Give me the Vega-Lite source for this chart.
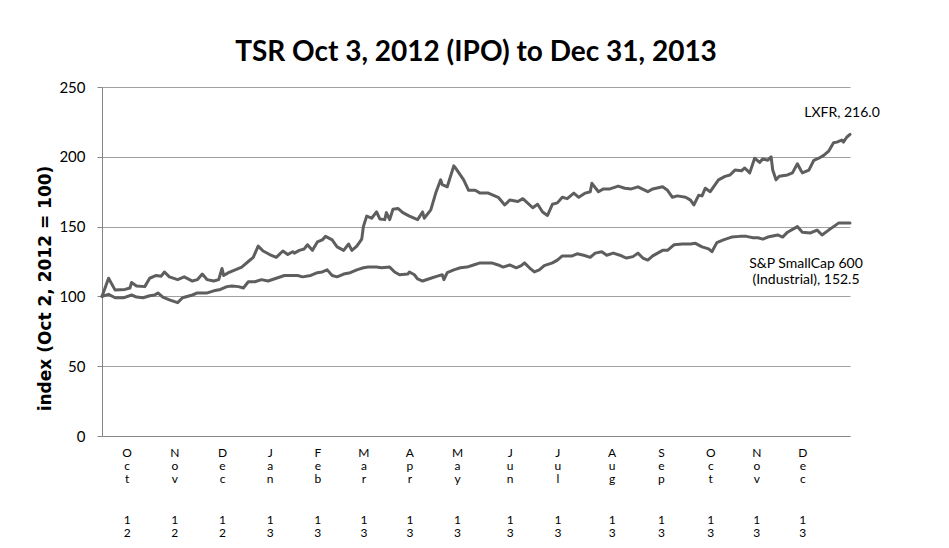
{
"$schema": "https://vega.github.io/schema/vega-lite/v6.json",
"width": 748, "height": 349,
"autosize": "none",
"padding": {"left": 102, "top": 87, "right": 99, "bottom": 112},
"background": "white",
"title": {"text": "TSR Oct 3, 2012 (IPO) to Dec 31, 2013", "font": "Lato", "fontSize": 28, "fontWeight": "bold", "color": "#000000", "anchor": "middle", "offset": 13},
"config": {"view": {"stroke": null}, "font": "Lato"},
"datasets": {
"series": [
{"date":"2012-10-02","series":"LXFR","value":100},{"date":"2012-10-06","series":"LXFR","value":113},{"date":"2012-10-10","series":"LXFR","value":104.5},{"date":"2012-10-16","series":"LXFR","value":105},{"date":"2012-10-19","series":"LXFR","value":106},{"date":"2012-10-20","series":"LXFR","value":110},{"date":"2012-10-23","series":"LXFR","value":107.5},{"date":"2012-10-28","series":"LXFR","value":107},{"date":"2012-10-31","series":"LXFR","value":113},{"date":"2012-11-04","series":"LXFR","value":115},{"date":"2012-11-07","series":"LXFR","value":114.5},{"date":"2012-11-09","series":"LXFR","value":117.5},{"date":"2012-11-12","series":"LXFR","value":114},{"date":"2012-11-17","series":"LXFR","value":112},{"date":"2012-11-21","series":"LXFR","value":114},{"date":"2012-11-26","series":"LXFR","value":111},{"date":"2012-11-29","series":"LXFR","value":112},{"date":"2012-12-02","series":"LXFR","value":116},{"date":"2012-12-05","series":"LXFR","value":112},{"date":"2012-12-09","series":"LXFR","value":111},{"date":"2012-12-12","series":"LXFR","value":112},{"date":"2012-12-14","series":"LXFR","value":120},{"date":"2012-12-15","series":"LXFR","value":115},{"date":"2012-12-18","series":"LXFR","value":117},{"date":"2012-12-22","series":"LXFR","value":119},{"date":"2012-12-26","series":"LXFR","value":121},{"date":"2012-12-30","series":"LXFR","value":125},{"date":"2013-01-02","series":"LXFR","value":128},{"date":"2013-01-05","series":"LXFR","value":136},{"date":"2013-01-08","series":"LXFR","value":132.5},{"date":"2013-01-12","series":"LXFR","value":130},{"date":"2013-01-16","series":"LXFR","value":128},{"date":"2013-01-20","series":"LXFR","value":132.5},{"date":"2013-01-23","series":"LXFR","value":130},{"date":"2013-01-26","series":"LXFR","value":132},{"date":"2013-01-27","series":"LXFR","value":131},{"date":"2013-01-30","series":"LXFR","value":133},{"date":"2013-02-02","series":"LXFR","value":134},{"date":"2013-02-04","series":"LXFR","value":137},{"date":"2013-02-07","series":"LXFR","value":133},{"date":"2013-02-10","series":"LXFR","value":139},{"date":"2013-02-13","series":"LXFR","value":140.5},{"date":"2013-02-15","series":"LXFR","value":143},{"date":"2013-02-19","series":"LXFR","value":140.5},{"date":"2013-02-22","series":"LXFR","value":135.5},{"date":"2013-02-26","series":"LXFR","value":133},{"date":"2013-03-01","series":"LXFR","value":137.5},{"date":"2013-03-03","series":"LXFR","value":133},{"date":"2013-03-06","series":"LXFR","value":136},{"date":"2013-03-09","series":"LXFR","value":141},{"date":"2013-03-10","series":"LXFR","value":150},{"date":"2013-03-12","series":"LXFR","value":157.5},{"date":"2013-03-15","series":"LXFR","value":156},{"date":"2013-03-18","series":"LXFR","value":160.5},{"date":"2013-03-20","series":"LXFR","value":155.5},{"date":"2013-03-23","series":"LXFR","value":155},{"date":"2013-03-24","series":"LXFR","value":160},{"date":"2013-03-26","series":"LXFR","value":155},{"date":"2013-03-28","series":"LXFR","value":162.5},{"date":"2013-03-31","series":"LXFR","value":163},{"date":"2013-04-03","series":"LXFR","value":160},{"date":"2013-04-07","series":"LXFR","value":157.5},{"date":"2013-04-12","series":"LXFR","value":155},{"date":"2013-04-15","series":"LXFR","value":160.5},{"date":"2013-04-16","series":"LXFR","value":156},{"date":"2013-04-20","series":"LXFR","value":162},{"date":"2013-04-23","series":"LXFR","value":174},{"date":"2013-04-26","series":"LXFR","value":183.5},{"date":"2013-04-27","series":"LXFR","value":180},{"date":"2013-04-30","series":"LXFR","value":178.5},{"date":"2013-05-04","series":"LXFR","value":193.5},{"date":"2013-05-05","series":"LXFR","value":192},{"date":"2013-05-10","series":"LXFR","value":183.5},{"date":"2013-05-13","series":"LXFR","value":176},{"date":"2013-05-17","series":"LXFR","value":176},{"date":"2013-05-20","series":"LXFR","value":174},{"date":"2013-05-25","series":"LXFR","value":174},{"date":"2013-05-31","series":"LXFR","value":171},{"date":"2013-06-04","series":"LXFR","value":165.5},{"date":"2013-06-07","series":"LXFR","value":169},{"date":"2013-06-12","series":"LXFR","value":168},{"date":"2013-06-15","series":"LXFR","value":170},{"date":"2013-06-21","series":"LXFR","value":163.5},{"date":"2013-06-24","series":"LXFR","value":166},{"date":"2013-06-27","series":"LXFR","value":160.5},{"date":"2013-06-30","series":"LXFR","value":158},{"date":"2013-07-03","series":"LXFR","value":166},{"date":"2013-07-06","series":"LXFR","value":167},{"date":"2013-07-09","series":"LXFR","value":171},{"date":"2013-07-12","series":"LXFR","value":170},{"date":"2013-07-16","series":"LXFR","value":174},{"date":"2013-07-19","series":"LXFR","value":171},{"date":"2013-07-23","series":"LXFR","value":174},{"date":"2013-07-26","series":"LXFR","value":175},{"date":"2013-07-27","series":"LXFR","value":181},{"date":"2013-07-31","series":"LXFR","value":175},{"date":"2013-08-03","series":"LXFR","value":177},{"date":"2013-08-07","series":"LXFR","value":177},{"date":"2013-08-12","series":"LXFR","value":179},{"date":"2013-08-16","series":"LXFR","value":177.5},{"date":"2013-08-20","series":"LXFR","value":177},{"date":"2013-08-24","series":"LXFR","value":178.5},{"date":"2013-08-30","series":"LXFR","value":175},{"date":"2013-09-02","series":"LXFR","value":177},{"date":"2013-09-08","series":"LXFR","value":178.5},{"date":"2013-09-11","series":"LXFR","value":176},{"date":"2013-09-14","series":"LXFR","value":171},{"date":"2013-09-17","series":"LXFR","value":172},{"date":"2013-09-22","series":"LXFR","value":171},{"date":"2013-09-25","series":"LXFR","value":169},{"date":"2013-09-27","series":"LXFR","value":165.5},{"date":"2013-09-30","series":"LXFR","value":172.5},{"date":"2013-10-02","series":"LXFR","value":172},{"date":"2013-10-04","series":"LXFR","value":177.5},{"date":"2013-10-07","series":"LXFR","value":175},{"date":"2013-10-09","series":"LXFR","value":178.5},{"date":"2013-10-12","series":"LXFR","value":183.5},{"date":"2013-10-16","series":"LXFR","value":186},{"date":"2013-10-19","series":"LXFR","value":187},{"date":"2013-10-22","series":"LXFR","value":190.5},{"date":"2013-10-26","series":"LXFR","value":190},{"date":"2013-10-28","series":"LXFR","value":192},{"date":"2013-10-31","series":"LXFR","value":188.5},{"date":"2013-11-03","series":"LXFR","value":199},{"date":"2013-11-06","series":"LXFR","value":196},{"date":"2013-11-08","series":"LXFR","value":198.5},{"date":"2013-11-11","series":"LXFR","value":197.5},{"date":"2013-11-13","series":"LXFR","value":200},{"date":"2013-11-14","series":"LXFR","value":190.5},{"date":"2013-11-16","series":"LXFR","value":183.5},{"date":"2013-11-18","series":"LXFR","value":186},{"date":"2013-11-23","series":"LXFR","value":187},{"date":"2013-11-26","series":"LXFR","value":188.5},{"date":"2013-11-29","series":"LXFR","value":195},{"date":"2013-12-01","series":"LXFR","value":190.5},{"date":"2013-12-02","series":"LXFR","value":188.5},{"date":"2013-12-06","series":"LXFR","value":190.5},{"date":"2013-12-09","series":"LXFR","value":197.5},{"date":"2013-12-12","series":"LXFR","value":199},{"date":"2013-12-15","series":"LXFR","value":201},{"date":"2013-12-18","series":"LXFR","value":204},{"date":"2013-12-21","series":"LXFR","value":210},{"date":"2013-12-23","series":"LXFR","value":210.5},{"date":"2013-12-26","series":"LXFR","value":212},{"date":"2013-12-27","series":"LXFR","value":210.5},{"date":"2013-12-29","series":"LXFR","value":214},{"date":"2013-12-31","series":"LXFR","value":216},
{"date":"2012-10-02","series":"SP600","value":100},{"date":"2012-10-06","series":"SP600","value":101.5},{"date":"2012-10-10","series":"SP600","value":99},{"date":"2012-10-15","series":"SP600","value":99},{"date":"2012-10-20","series":"SP600","value":101},{"date":"2012-10-23","series":"SP600","value":99.5},{"date":"2012-10-27","series":"SP600","value":99},{"date":"2012-10-31","series":"SP600","value":100.5},{"date":"2012-11-03","series":"SP600","value":101},{"date":"2012-11-05","series":"SP600","value":102.5},{"date":"2012-11-08","series":"SP600","value":99.5},{"date":"2012-11-12","series":"SP600","value":97.5},{"date":"2012-11-17","series":"SP600","value":95.5},{"date":"2012-11-20","series":"SP600","value":99},{"date":"2012-11-26","series":"SP600","value":101},{"date":"2012-11-29","series":"SP600","value":102.5},{"date":"2012-12-05","series":"SP600","value":102.5},{"date":"2012-12-09","series":"SP600","value":104},{"date":"2012-12-13","series":"SP600","value":105},{"date":"2012-12-17","series":"SP600","value":107},{"date":"2012-12-20","series":"SP600","value":107.5},{"date":"2012-12-24","series":"SP600","value":107},{"date":"2012-12-27","series":"SP600","value":106},{"date":"2012-12-30","series":"SP600","value":110.5},{"date":"2013-01-03","series":"SP600","value":110.5},{"date":"2013-01-07","series":"SP600","value":112},{"date":"2013-01-11","series":"SP600","value":111},{"date":"2013-01-16","series":"SP600","value":113},{"date":"2013-01-21","series":"SP600","value":115},{"date":"2013-01-26","series":"SP600","value":115},{"date":"2013-01-29","series":"SP600","value":115},{"date":"2013-02-01","series":"SP600","value":114},{"date":"2013-02-06","series":"SP600","value":115},{"date":"2013-02-10","series":"SP600","value":117},{"date":"2013-02-13","series":"SP600","value":117.5},{"date":"2013-02-16","series":"SP600","value":119},{"date":"2013-02-19","series":"SP600","value":115},{"date":"2013-02-22","series":"SP600","value":114},{"date":"2013-02-26","series":"SP600","value":116},{"date":"2013-03-02","series":"SP600","value":117},{"date":"2013-03-06","series":"SP600","value":119},{"date":"2013-03-10","series":"SP600","value":120.5},{"date":"2013-03-13","series":"SP600","value":121},{"date":"2013-03-18","series":"SP600","value":121},{"date":"2013-03-21","series":"SP600","value":120.5},{"date":"2013-03-26","series":"SP600","value":121},{"date":"2013-03-29","series":"SP600","value":117.5},{"date":"2013-04-01","series":"SP600","value":115.5},{"date":"2013-04-06","series":"SP600","value":116},{"date":"2013-04-07","series":"SP600","value":117.5},{"date":"2013-04-10","series":"SP600","value":115.5},{"date":"2013-04-12","series":"SP600","value":112.5},{"date":"2013-04-15","series":"SP600","value":111},{"date":"2013-04-20","series":"SP600","value":113},{"date":"2013-04-24","series":"SP600","value":114.5},{"date":"2013-04-27","series":"SP600","value":115.5},{"date":"2013-04-28","series":"SP600","value":112},{"date":"2013-04-30","series":"SP600","value":117},{"date":"2013-05-04","series":"SP600","value":119},{"date":"2013-05-08","series":"SP600","value":120.5},{"date":"2013-05-12","series":"SP600","value":121},{"date":"2013-05-16","series":"SP600","value":122.5},{"date":"2013-05-20","series":"SP600","value":124},{"date":"2013-05-24","series":"SP600","value":124},{"date":"2013-05-27","series":"SP600","value":124},{"date":"2013-05-31","series":"SP600","value":122.5},{"date":"2013-06-03","series":"SP600","value":121},{"date":"2013-06-07","series":"SP600","value":122.5},{"date":"2013-06-11","series":"SP600","value":120.5},{"date":"2013-06-14","series":"SP600","value":122},{"date":"2013-06-16","series":"SP600","value":124},{"date":"2013-06-19","series":"SP600","value":120.5},{"date":"2013-06-22","series":"SP600","value":117.5},{"date":"2013-06-25","series":"SP600","value":119},{"date":"2013-06-28","series":"SP600","value":122},{"date":"2013-07-03","series":"SP600","value":124},{"date":"2013-07-06","series":"SP600","value":126},{"date":"2013-07-09","series":"SP600","value":129},{"date":"2013-07-15","series":"SP600","value":129},{"date":"2013-07-18","series":"SP600","value":130.5},{"date":"2013-07-22","series":"SP600","value":129.5},{"date":"2013-07-26","series":"SP600","value":128},{"date":"2013-07-29","series":"SP600","value":131},{"date":"2013-08-02","series":"SP600","value":132},{"date":"2013-08-05","series":"SP600","value":129.5},{"date":"2013-08-09","series":"SP600","value":131},{"date":"2013-08-13","series":"SP600","value":129.5},{"date":"2013-08-17","series":"SP600","value":127.5},{"date":"2013-08-21","series":"SP600","value":128.5},{"date":"2013-08-24","series":"SP600","value":131},{"date":"2013-08-27","series":"SP600","value":127.5},{"date":"2013-08-30","series":"SP600","value":126},{"date":"2013-09-02","series":"SP600","value":129},{"date":"2013-09-05","series":"SP600","value":131},{"date":"2013-09-08","series":"SP600","value":133},{"date":"2013-09-11","series":"SP600","value":133},{"date":"2013-09-14","series":"SP600","value":136},{"date":"2013-09-15","series":"SP600","value":137},{"date":"2013-09-20","series":"SP600","value":137.5},{"date":"2013-09-25","series":"SP600","value":137.5},{"date":"2013-09-28","series":"SP600","value":138},{"date":"2013-10-02","series":"SP600","value":135.5},{"date":"2013-10-06","series":"SP600","value":134},{"date":"2013-10-08","series":"SP600","value":132},{"date":"2013-10-11","series":"SP600","value":138.5},{"date":"2013-10-15","series":"SP600","value":140.5},{"date":"2013-10-20","series":"SP600","value":142.5},{"date":"2013-10-25","series":"SP600","value":143},{"date":"2013-10-29","series":"SP600","value":143},{"date":"2013-11-02","series":"SP600","value":142},{"date":"2013-11-05","series":"SP600","value":142},{"date":"2013-11-08","series":"SP600","value":141},{"date":"2013-11-11","series":"SP600","value":142.5},{"date":"2013-11-17","series":"SP600","value":144},{"date":"2013-11-20","series":"SP600","value":142.5},{"date":"2013-11-23","series":"SP600","value":146},{"date":"2013-11-29","series":"SP600","value":150},{"date":"2013-12-02","series":"SP600","value":146},{"date":"2013-12-07","series":"SP600","value":145.5},{"date":"2013-12-11","series":"SP600","value":147.5},{"date":"2013-12-14","series":"SP600","value":144},{"date":"2013-12-18","series":"SP600","value":147.5},{"date":"2013-12-21","series":"SP600","value":150},{"date":"2013-12-24","series":"SP600","value":152.5},{"date":"2013-12-27","series":"SP600","value":152.5},{"date":"2013-12-31","series":"SP600","value":152.5}
],
"labels": [
{"date":"2013-12-31","series":"LXFR","value":216,"label":"LXFR, 216.0"},
{"date":"2013-12-31","series":"SP600","value":152.5,"label":"S&P SmallCap 600|(Industrial), 152.5"}
]
},
"resolve": {"axis": {"x": "independent"}},
"encoding": {
"y": {"field": "value", "type": "quantitative",
 "scale": {"domain": [0, 250], "nice": false},
 "axis": {"title": "index (Oct 2, 2012 = 100)", "titleFont": "DejaVu Sans", "titleFontSize": 17, "titleFontWeight": "bold", "titleColor": "#000000",
  "titleAngle": -90, "titleAlign": "center", "titleBaseline": "alphabetic", "titleX": -52, "titleY": 201,
  "values": [0, 50, 100, 150, 200, 250], "labelFontSize": 15, "labelColor": "#000000", "labelPadding": 12, "tickSize": 5, "tickColor": "#868686",
  "gridColor": "#a0a0a0", "gridWidth": 1, "domainColor": "#868686", "domainWidth": 1}}
},
"layer": [
 {"data": {"name": "series"}, "mark": {"type": "line", "strokeWidth": 3, "color": "#5e5e5e", "strokeJoin": "round", "strokeCap": "round"},
  "encoding": {
   "x": {"field": "date", "type": "temporal",
    "scale": {"domain": [{"year":2012,"month":10,"date":2,"utc":true},{"year":2013,"month":12,"date":31,"utc":true}], "nice": false},
    "axis": {"orient": "bottom", "title": null, "grid": false, "ticks": false, "domainColor": "#868686", "domainWidth": 1,
     "values": [{"year":2012,"month":10,"date":17,"utc":true},{"year":2012,"month":11,"date":15,"utc":true},{"year":2012,"month":12,"date":14,"utc":true},{"year":2013,"month":1,"date":12,"utc":true},{"year":2013,"month":2,"date":10,"utc":true},{"year":2013,"month":3,"date":10,"utc":true},{"year":2013,"month":4,"date":7,"utc":true},{"year":2013,"month":5,"date":6,"utc":true},{"year":2013,"month":6,"date":7,"utc":true},{"year":2013,"month":7,"date":6,"utc":true},{"year":2013,"month":8,"date":8,"utc":true},{"year":2013,"month":9,"date":7,"utc":true},{"year":2013,"month":10,"date":7,"utc":true},{"year":2013,"month":11,"date":4,"utc":true},{"year":2013,"month":12,"date":2,"utc":true}],
     "labelExpr": "split(utcFormat(datum.value, '%b'), '')",
     "labelAngle": 0, "labelAlign": "center", "labelBaseline": "top", "labelPadding": 11, "labelFontSize": 12, "labelLineHeight": 13.4, "labelColor": "#000000", "labelOverlap": false, "labelBound": false, "labelFlush": false}},
   "detail": {"field": "series"}}},
 {"data": {"name": "labels"}, "transform": [{"filter": "datum.series == 'LXFR'"}],
  "mark": {"type": "text", "align": "center", "baseline": "middle", "dx": -8, "dy": -21, "fontSize": 14, "color": "#000000"},
  "encoding": {
   "x": {"field": "date", "type": "temporal",
    "scale": {"domain": [{"year":2012,"month":10,"date":2,"utc":true},{"year":2013,"month":12,"date":31,"utc":true}], "nice": false},
    "axis": {"orient": "bottom", "title": null, "grid": false, "ticks": false, "domain": false,
     "values": [{"year":2012,"month":10,"date":17,"utc":true},{"year":2012,"month":11,"date":15,"utc":true},{"year":2012,"month":12,"date":14,"utc":true},{"year":2013,"month":1,"date":12,"utc":true},{"year":2013,"month":2,"date":10,"utc":true},{"year":2013,"month":3,"date":10,"utc":true},{"year":2013,"month":4,"date":7,"utc":true},{"year":2013,"month":5,"date":6,"utc":true},{"year":2013,"month":6,"date":7,"utc":true},{"year":2013,"month":7,"date":6,"utc":true},{"year":2013,"month":8,"date":8,"utc":true},{"year":2013,"month":9,"date":7,"utc":true},{"year":2013,"month":10,"date":7,"utc":true},{"year":2013,"month":11,"date":4,"utc":true},{"year":2013,"month":12,"date":2,"utc":true}],
     "labelExpr": "split(utcFormat(datum.value, '%y'), '')",
     "labelAngle": 0, "labelAlign": "center", "labelBaseline": "top", "labelPadding": 78, "labelFontSize": 12, "labelLineHeight": 13.4, "labelColor": "#000000", "labelOverlap": false, "labelBound": false, "labelFlush": false}},
   "text": {"field": "label"}}},
 {"data": {"name": "labels"}, "transform": [{"filter": "datum.series == 'SP600'"}],
  "mark": {"type": "text", "align": "center", "baseline": "top", "dx": -44, "dy": 34, "fontSize": 14, "lineHeight": 16, "lineBreak": "|", "color": "#000000"},
  "encoding": {
   "x": {"field": "date", "type": "temporal",
    "scale": {"domain": [{"year":2012,"month":10,"date":2,"utc":true},{"year":2013,"month":12,"date":31,"utc":true}], "nice": false},
    "axis": null},
   "text": {"field": "label"}}}
]
}
